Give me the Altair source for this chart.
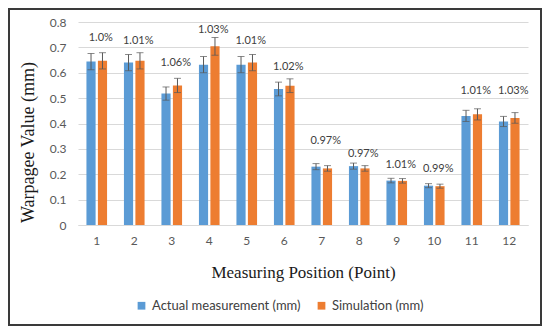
import altair as alt
import pandas as pd

points = [str(i) for i in range(1, 13)]
series_names = ["Actual measurement (mm)", "Simulation (mm)"]
actual = [0.644, 0.640, 0.518, 0.632, 0.632, 0.536, 0.230, 0.232, 0.175, 0.155, 0.430, 0.408]
simulation = [0.647, 0.647, 0.550, 0.704, 0.640, 0.549, 0.223, 0.223, 0.174, 0.153, 0.436, 0.422]
actual_err = [0.032, 0.032, 0.026, 0.032, 0.032, 0.027, 0.012, 0.012, 0.009, 0.008, 0.022, 0.020]
sim_err = [0.032, 0.032, 0.028, 0.035, 0.032, 0.027, 0.011, 0.011, 0.009, 0.008, 0.022, 0.021]
pct_labels = ["1.0%", "1.01%", "1.06%", "1.03%", "1.01%", "1.02%", "0.97%", "0.97%", "1.01%", "0.99%", "1.01%", "1.03%"]
pct_label_y = [0.736, 0.725, 0.638, 0.770, 0.727, 0.622, 0.332, 0.278, 0.236, 0.220, 0.527, 0.527]
y_ticks = [0, 0.1, 0.2, 0.3, 0.4, 0.5, 0.6, 0.7, 0.8]

rows = []
for name, vals, errs in [(series_names[0], actual, actual_err), (series_names[1], simulation, sim_err)]:
    for p, v, e in zip(points, vals, errs):
        rows.append({"point": p, "series": name, "value": v, "lo": v - e, "hi": v + e})
df = pd.DataFrame(rows)
lab = pd.DataFrame({"point": points, "label": pct_labels, "ly": pct_label_y})

W, H = 450, 203
BLUE, ORANGE = "#5B9BD5", "#ED7D31"
xscale = alt.Scale(paddingInner=0.45, paddingOuter=0.225)
yscale = alt.Scale(domain=[0, 0.8])

xaxis = alt.Axis(labelAngle=0, ticks=False, domainColor="#D9D9D9", labelColor="#595959",
                 labelFont="Lato", labelFontSize=12, labelPadding=10, grid=False,
                 title="Measuring Position (Point)", titleFont="Liberation Serif",
                 titleFontSize=17, titleFontWeight="normal", titleColor="#1a1a1a",
                 titleX=225, titleY=47, titleBaseline="middle", titleAlign="center")
yaxis = alt.Axis(values=y_ticks, labelExpr="datum.value == 0 ? '0' : format(datum.value, '.1f')",
                 labelOverlap=False, ticks=False, domain=False, grid=True,
                 gridColor="#D9D9D9", labelColor="#595959",
                 labelFont="Lato", labelFontSize=12, labelPadding=12,
                 title="Warpagee Value (mm)", titleFont="Liberation Serif", titleFontSize=18,
                 titleFontWeight="normal", titleColor="#1a1a1a", titleX=-50, titleY=120,
                 titleAngle=-90, titleBaseline="middle", titleAlign="center")

xenc = alt.X("point:N", sort=points, scale=xscale, axis=xaxis, title="Measuring Position (Point)")
xoff = alt.XOffset("series:N", sort=series_names, scale=alt.Scale(paddingInner=0.2, paddingOuter=0))


def yenc(field):
    return alt.Y(field, scale=yscale, axis=yaxis, title="Warpagee Value (mm)")


base = alt.Chart(df)
bars = base.mark_bar().encode(
    x=xenc,
    xOffset=xoff,
    y=yenc("value:Q"),
    color=alt.Color("series:N", sort=series_names,
                    scale=alt.Scale(domain=series_names, range=[BLUE, ORANGE]),
                    legend=alt.Legend(orient="none", direction="horizontal", legendX=57, legendY=277,
                                      title=None, symbolType="square", symbolSize=60,
                                      symbolStrokeWidth=0, labelFont="Lato", labelFontSize=13,
                                      labelColor="#404040", labelOffset=4, columnPadding=14)),
)
rules = base.mark_rule(color="#595959", strokeWidth=1).encode(
    x=xenc, xOffset=xoff, y=yenc("lo:Q"), y2="hi:Q")
cap_lo = base.mark_tick(color="#595959", thickness=1, size=7, orient="horizontal").encode(
    x=xenc, xOffset=xoff, y=yenc("lo:Q"))
cap_hi = base.mark_tick(color="#595959", thickness=1, size=7, orient="horizontal").encode(
    x=xenc, xOffset=xoff, y=yenc("hi:Q"))
texts = alt.Chart(lab).mark_text(font="Lato", fontSize=11, color="#404040", dx=4, baseline="middle").encode(
    x=xenc, y=yenc("ly:Q"), text="label:N")
border = alt.Chart(pd.DataFrame({"a": [0]})).mark_rect(fillOpacity=0, stroke="#3a3a3a", strokeWidth=2).encode(
    x=alt.value(-69), x2=alt.value(463), y=alt.value(-13), y2=alt.value(303))

chart = alt.layer(bars, rules, cap_lo, cap_hi, texts, border).properties(
    width=W, height=H, autosize=alt.AutoSizeParams(type="none"),
    padding={"left": 70, "top": 14, "right": 14, "bottom": 101},
).configure_view(stroke=None).configure_axis(gridWidth=1)

chart.save("out.html", embed_options={"renderer": "svg", "actions": False})
